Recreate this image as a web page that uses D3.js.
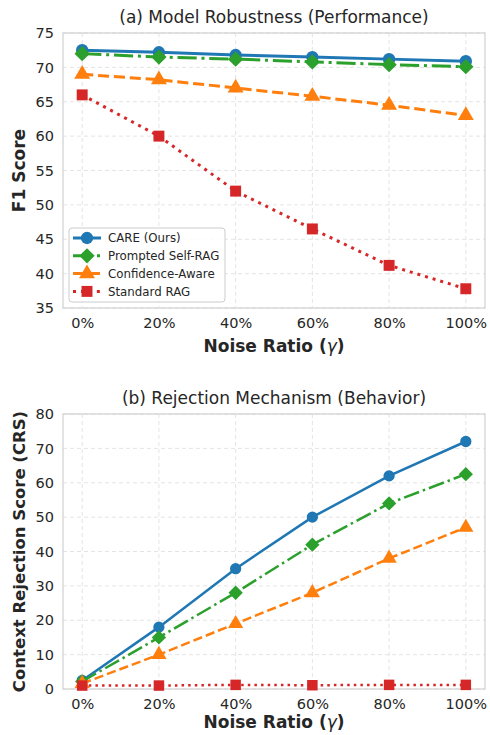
<!DOCTYPE html>
<html>
<head>
<meta charset="utf-8">
<script src="https://cdn.jsdelivr.net/npm/d3@7"></script>
<style>
  body { margin: 0; background: #fff; }
  svg { font-family: "DejaVu Sans", sans-serif; }
</style>
</head>
<body>
<svg id="drawing_region"></svg>
<script>
const noise = [0, 20, 40, 60, 80, 100];
const tickLabels = ["0%", "20%", "40%", "60%", "80%", "100%"];
const methods = ["CARE (Ours)", "Prompted Self-RAG", "Confidence-Aware", "Standard RAG"];

// (a) F1 score
const f1Care = [72.5, 72.2, 71.8, 71.5, 71.2, 70.9];
const f1SelfRag = [72.0, 71.5, 71.2, 70.8, 70.4, 70.1];
const f1Conf = [69.0, 68.2, 67.0, 65.8, 64.5, 63.0];
const f1Std = [66.0, 60.0, 52.0, 46.5, 41.2, 37.8];

// (b) Context rejection score
const crsCare = [2.5, 18, 35, 50, 62, 72];
const crsSelfRag = [2.2, 15, 28, 42, 54, 62.5];
const crsConf = [1.6, 10, 19, 28, 38, 47];
const crsStd = [1.0, 1.0, 1.2, 1.1, 1.2, 1.2];

const styles = [
    {color: '#1f77b4', dash: null, marker: 'circle'},
    {color: '#2ca02c', dash: 'dashdot', marker: 'diamond'},
    {color: '#ff7f0e', dash: 'dash', marker: 'triangle'},
    {color: '#d62728', dash: 'dot', marker: 'square'}
];

const svg = d3.select('#drawing_region')
    .attr('width', 490)
    .attr('height', 735);

function dashArray(kind, lw) {
    if (kind === 'dash') return `${3.7*lw},${1.6*lw}`;
    if (kind === 'dashdot') return `${6.4*lw},${1.6*lw},${1*lw},${1.6*lw}`;
    if (kind === 'dot') return `${1*lw},${1.65*lw}`;
    return null;
}

function symbolFor(marker, size) {
    const types = {
        circle: d3.symbolCircle,
        diamond: d3.symbolDiamond2,
        triangle: d3.symbolTriangle,
        square: d3.symbolSquare
    };
    return d3.symbol().type(types[marker]).size(size)();
}

function drawPanel(opt) {
    const x = d3.scaleLinear().domain([-5, 105]).range([63, 485]);
    const y = d3.scaleLinear().domain(opt.ydomain).range([opt.bottom, opt.top]);
    const g = svg.append('g');

    // grid
    g.append('g')
        .selectAll('line.gx')
        .data(noise)
        .join('line')
        .attr('x1', d => x(d)).attr('x2', d => x(d))
        .attr('y1', opt.top).attr('y2', opt.bottom)
        .attr('stroke', '#dddddd').attr('stroke-width', 0.8)
        .attr('stroke-dasharray', '4,3');
    g.append('g')
        .selectAll('line.gy')
        .data(opt.yticks)
        .join('line')
        .attr('x1', 63).attr('x2', 485)
        .attr('y1', d => y(d)).attr('y2', d => y(d))
        .attr('stroke', '#dddddd').attr('stroke-width', 0.8)
        .attr('stroke-dasharray', '4,3');

    // frame
    g.append('rect')
        .attr('x', 63).attr('y', opt.top)
        .attr('width', 485 - 63).attr('height', opt.bottom - opt.top)
        .attr('fill', 'none').attr('stroke', '#d0d0d0').attr('stroke-width', 1.2);

    // axes
    const xaxis = d3.axisBottom(x).tickValues(noise)
        .tickFormat((d, i) => tickLabels[i]).tickSize(0).tickPadding(10);
    const yaxis = d3.axisLeft(y).tickValues(opt.yticks).tickSize(0).tickPadding(9);
    const xg = g.append('g').attr('transform', `translate(0,${opt.bottom})`).call(xaxis);
    const yg = g.append('g').attr('transform', `translate(63,0)`).call(yaxis);
    [xg, yg].forEach(a => {
        a.select('.domain').remove();
        a.selectAll('text').attr('font-size', 14.5).attr('fill', '#262626')
            .attr('font-family', '"DejaVu Sans", sans-serif');
    });

    // titles
    g.append('text')
        .attr('x', 274).attr('y', opt.top - 10)
        .attr('text-anchor', 'middle').attr('font-size', 17).attr('fill', '#262626')
        .text(opt.title);
    g.append('text')
        .attr('x', 274).attr('y', opt.bottom + opt.xlabelOffset)
        .attr('text-anchor', 'middle').attr('font-size', 17).attr('font-weight', 'bold')
        .attr('fill', '#262626')
        .html('Noise Ratio (<tspan font-style="italic" font-weight="normal">γ</tspan>)');
    g.append('text')
        .attr('transform', `translate(19,${(opt.top + opt.bottom) / 2}) rotate(-90)`)
        .attr('text-anchor', 'middle').attr('dy', '0.35em')
        .attr('font-size', opt.ylabelSize).attr('font-weight', 'bold')
        .attr('fill', '#262626')
        .text(opt.ylabel);

    // series
    const line = d3.line().x((d, i) => x(noise[i])).y(d => y(d));
    opt.series.forEach((vals, k) => {
        const s = styles[k];
        g.append('path')
            .attr('d', line(vals))
            .attr('fill', 'none')
            .attr('stroke', s.color)
            .attr('stroke-width', opt.lw)
            .attr('stroke-dasharray', dashArray(s.dash, opt.lw));
        g.append('g')
            .selectAll('path')
            .data(vals)
            .join('path')
            .attr('transform', (d, i) => `translate(${x(noise[i])},${y(d)})`)
            .attr('d', symbolFor(s.marker, opt.msize[s.marker]))
            .attr('fill', s.color);
    });

    if (opt.legend) {
        const lg = g.append('g').attr('transform', 'translate(69,228)');
        lg.append('rect')
            .attr('width', 156).attr('height', 74).attr('rx', 3)
            .attr('fill', 'rgba(255,255,255,0.85)').attr('stroke', '#cccccc').attr('stroke-width', 1);
        methods.forEach((m, k) => {
            const s = styles[k];
            const yy = 10 + k * 17.8;
            lg.append('line')
                .attr('x1', 4).attr('x2', 32).attr('y1', yy).attr('y2', yy)
                .attr('stroke', s.color).attr('stroke-width', opt.lw)
                .attr('stroke-dasharray', dashArray(s.dash, opt.lw));
            lg.append('path')
                .attr('transform', `translate(18,${yy})`)
                .attr('d', symbolFor(s.marker, opt.msize[s.marker]))
                .attr('fill', s.color);
            lg.append('text')
                .attr('x', 39).attr('y', yy).attr('dy', '0.35em')
                .attr('font-size', 11.8).attr('fill', '#262626')
                .text(m);
        });
    }
}

drawPanel({
    title: '(a) Model Robustness (Performance)',
    ylabel: 'F1 Score',
    ylabelSize: 17,
    top: 33, bottom: 308,
    xlabelOffset: 44,
    ydomain: [35, 75],
    yticks: [35, 40, 45, 50, 55, 60, 65, 70, 75],
    series: [f1Care, f1SelfRag, f1Conf, f1Std],
    lw: 3,
    msize: {circle: 120, diamond: 150, triangle: 110, square: 120},
    legend: true
});

drawPanel({
    title: '(b) Rejection Mechanism (Behavior)',
    ylabel: 'Context Rejection Score (CRS)',
    ylabelSize: 16.5,
    top: 414, bottom: 689,
    xlabelOffset: 39,
    ydomain: [0, 80],
    yticks: [0, 10, 20, 30, 40, 50, 60, 70, 80],
    series: [crsCare, crsSelfRag, crsConf, crsStd],
    lw: 2.5,
    msize: {circle: 100, diamond: 130, triangle: 100, square: 110},
    legend: false
});
</script>
</body>
</html>
